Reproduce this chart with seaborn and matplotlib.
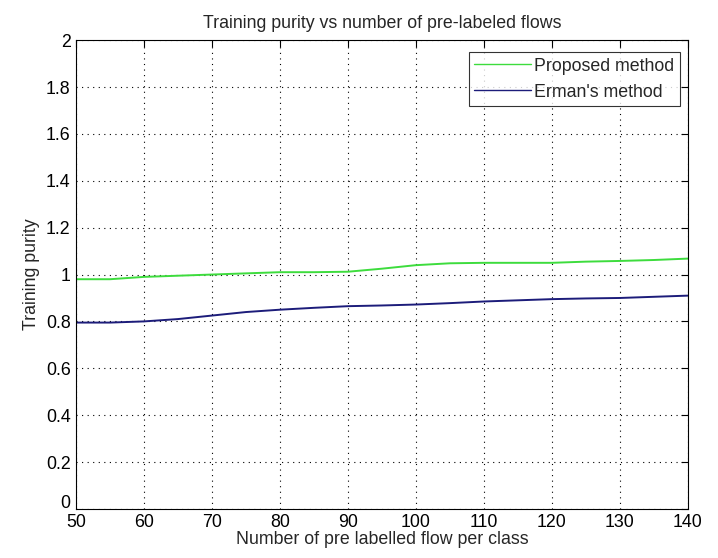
import matplotlib
matplotlib.use("Agg")
import matplotlib.pyplot as plt
import matplotlib.transforms as mtransforms
import seaborn as sns
import pandas as pd

x_values = [50, 55, 60, 65, 70, 75, 80, 85, 90, 95, 100, 105, 110, 115, 120, 125, 130, 135, 140]
proposed = [0.98, 0.98, 0.99, 0.995, 1.0, 1.005, 1.01, 1.01, 1.012, 1.025, 1.04, 1.048, 1.05, 1.05, 1.05, 1.055, 1.058, 1.062, 1.068]
erman = [0.795, 0.795, 0.80, 0.81, 0.825, 0.84, 0.85, 0.858, 0.865, 0.868, 0.872, 0.878, 0.885, 0.89, 0.895, 0.898, 0.90, 0.905, 0.91]
series_names = ["Proposed method", "Erman's method"]
x_ticks = [50, 60, 70, 80, 90, 100, 110, 120, 130, 140]
y_ticks = [0, 0.2, 0.4, 0.6, 0.8, 1, 1.2, 1.4, 1.6, 1.8, 2]
y_tick_labels = ["0", "0.2", "0.4", "0.6", "0.8", "1", "1.2", "1.4", "1.6", "1.8", "2"]

df = pd.DataFrame({
    "x": x_values * 2,
    "y": proposed + erman,
    "method": [series_names[0]] * len(x_values) + [series_names[1]] * len(x_values),
})

sns.set_style("white")
plt.rcParams["font.family"] = ["Liberation Sans", "DejaVu Sans"]

FS = 12.8

fig = plt.figure(figsize=(7.18, 5.58), dpi=100)
ax = fig.add_axes([0.106, 0.088, 0.852, 0.840])

sns.lineplot(data=df, x="x", y="y", hue="method", hue_order=series_names,
             palette=["#3ddc3d", "#1c1c7a"], linewidth=1.4, ax=ax, legend=True)

ax.set_xlim(50, 140)
ax.set_ylim(0, 2)
ax.set_xticks(x_ticks)
ax.set_yticks(y_ticks)
ax.set_yticklabels(y_tick_labels)
ax.tick_params(direction="in", top=True, right=True, length=5, width=0.8,
               labelsize=FS, colors="black")
ax.tick_params(axis="y", pad=4)
ax.tick_params(axis="x", pad=4)
ax.grid(True, linestyle=(0, (1, 4)), color="black", linewidth=0.8)
for s in ax.spines.values():
    s.set_color("black")
    s.set_linewidth(0.8)

# lift the "0" y tick label slightly, as in the reference
zero_label = ax.get_yticklabels()[0]
zero_label.set_transform(zero_label.get_transform() +
                         mtransforms.ScaledTranslation(0, 5 / 72, fig.dpi_scale_trans))

ax.set_title("Training purity vs number of pre-labeled flows", fontsize=FS, pad=9)
ax.set_xlabel("Number of pre labelled flow per class", fontsize=FS, labelpad=0)
ax.set_ylabel("Training purity", fontsize=FS, labelpad=4)

leg = ax.legend(loc="upper right", bbox_to_anchor=(0.987, 0.974), fontsize=FS,
                frameon=True, fancybox=False, handlelength=3.2, handletextpad=0.2,
                borderpad=0.3, labelspacing=0.5, borderaxespad=0)
leg.get_frame().set_edgecolor("black")
leg.get_frame().set_linewidth(0.8)
for line in leg.get_lines():
    line.set_linewidth(1.0)

fig.savefig("out.png", dpi=100, facecolor="white")
